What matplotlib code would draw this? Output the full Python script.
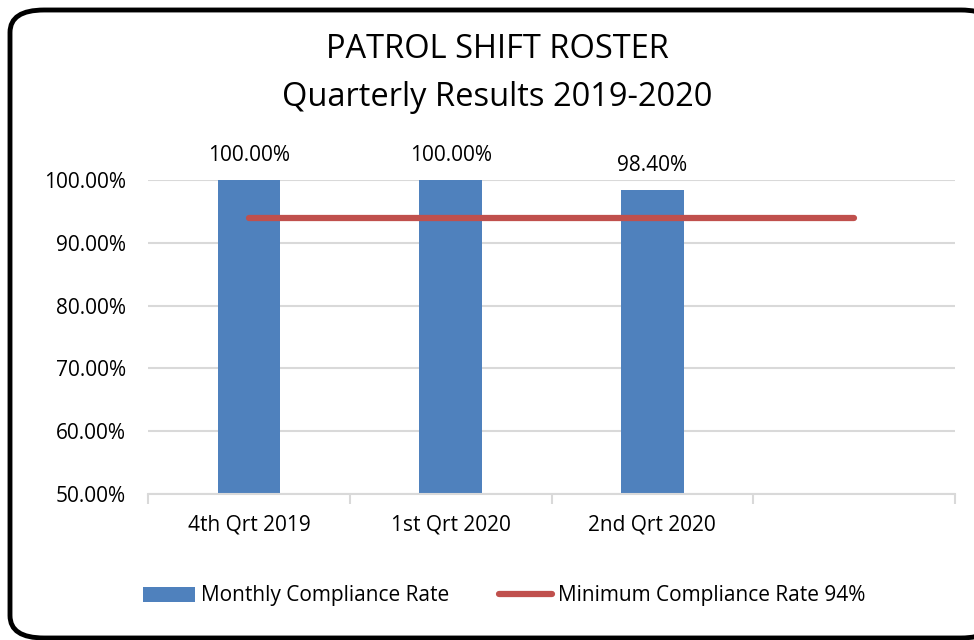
import matplotlib.pyplot as plt
from matplotlib.patches import FancyBboxPatch, Patch
from matplotlib.lines import Line2D

categories = ["4th Qrt 2019", "1st Qrt 2020", "2nd Qrt 2020", ""]
compliance = [1.00, 1.00, 0.984]
minimum = [0.94, 0.94, 0.94, 0.94]
labels = ["100.00%", "100.00%", "98.40%"]

plt.rcParams['font.family'] = ['Open Sans', 'DejaVu Sans']

fig = plt.figure(figsize=(9.74, 6.4), dpi=100)
W, H = 974, 640

# rounded frame around the chart
frame = FancyBboxPatch((10 / W, 2 / H), 985 / W, 628 / H,
                       boxstyle="round,pad=0,rounding_size=0.035",
                       transform=fig.transFigure, facecolor='white',
                       edgecolor='black', linewidth=3.5, zorder=-1)
fig.patches.append(frame)

ax = fig.add_axes([148 / W, 1 - 494 / H, (955 - 148) / W, (494 - 180) / H])
ax.set_zorder(1)
ax.set_facecolor('none')

x = list(range(len(categories)))
ax.bar(x[:3], compliance, width=0.31, color='#4f81bd', zorder=2)
ax.plot(x, minimum, color='#c0504d', linewidth=4.5, solid_capstyle='round', zorder=3)

for i, (v, t) in enumerate(zip(compliance, labels)):
    ax.text(i, v + 0.022, t, ha='center', va='bottom', fontsize=15, clip_on=False)

ax.set_xlim(-0.5, 3.5)
ax.set_ylim(0.5, 1.0)
ax.set_yticks([0.5, 0.6, 0.7, 0.8, 0.9, 1.0])
ax.set_yticklabels(["50.00%", "60.00%", "70.00%", "80.00%", "90.00%", "100.00%"], fontsize=15)
ax.tick_params(axis='y', length=0, pad=16)
ax.yaxis.grid(True, color='#d9d9d9', linewidth=1.5, zorder=0)
ax.set_axisbelow(True)

ax.set_xticks(x)
ax.set_xticklabels(categories, fontsize=15)
ax.set_xticks([-0.5, 0.5, 1.5, 2.5, 3.5], minor=True)
ax.tick_params(axis='x', which='major', length=0, pad=15)
ax.tick_params(axis='x', which='minor', length=7, color='#d9d9d9', width=1.5)

for s in ['top', 'right', 'left']:
    ax.spines[s].set_visible(False)
ax.spines['bottom'].set_color('#d9d9d9')
ax.spines['bottom'].set_linewidth(1.5)

fig.text(497 / W, 1 - 50 / H, "PATROL SHIFT ROSTER", ha='center', va='center', fontsize=23.5)
fig.text(497 / W, 1 - 97 / H, "Quarterly Results 2019-2020", ha='center', va='center', fontsize=23.5)

handles = [Patch(facecolor='#4f81bd'),
           Line2D([0], [0], color='#c0504d', linewidth=4.5, solid_capstyle='round')]
fig.legend(handles, ["Monthly Compliance Rate", "Minimum Compliance Rate 94%"],
           loc='center', bbox_to_anchor=(504 / W, 1 - 596 / H), ncol=2, frameon=False,
           fontsize=15, handlelength=2.5, handleheight=0.75, columnspacing=2.4, handletextpad=0.3)

fig.savefig("out.png", dpi=100)
